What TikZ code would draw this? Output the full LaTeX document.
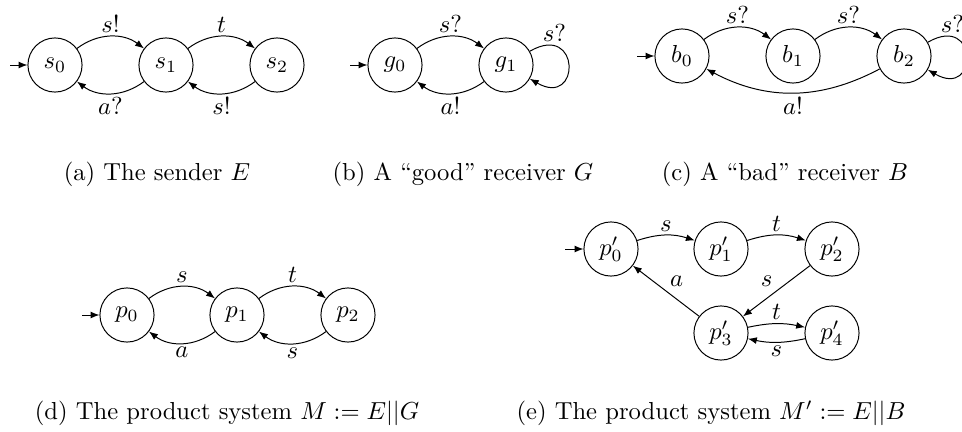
\documentclass[tikz,border=0pt]{standalone}
\usetikzlibrary{arrows.meta}

\begin{document}
\begin{tikzpicture}[x=0.4065pt, y=-0.4065pt,
    >={Latex[length=3.6pt,width=2.8pt]},
    loc/.style={draw, circle, minimum size=22pt, inner sep=0pt},
    trans/.style={->, auto},
    lbl/.style={inner sep=1.5pt},
    selfloop/.style={out=30, in=-30, distance=24pt},
    caption/.style={anchor=base}]

    \useasboundingbox (0,0) rectangle (962,432);

    % ==========================================
    % (a) Sender
    % ==========================================
    \node[loc] (s0) at (55,65)  {$s_0$};
    \node[loc] (s1) at (166,65) {$s_1$};
    \node[loc] (s2) at (277,65) {$s_2$};
    \coordinate (s0in) at (10,65);

    \draw[->] (s0in) -- (s0);
    \draw[trans] (s0) to[bend left=37] node[lbl] {$s!$} (s1);
    \draw[trans] (s1) to[bend left=37] node[lbl] {$a?$} (s0);
    \draw[trans] (s1) to[bend left=37] node[lbl] {$t$}  (s2);
    \draw[trans] (s2) to[bend left=37] node[lbl] {$s!$} (s1);

    \node[caption] (capa) at (157,180) {(a) The sender $E$};

    % ==========================================
    % (b) Good receiver
    % ==========================================
    \node[loc] (g0) at (395,65) {$g_0$};
    \node[loc] (g1) at (506,65) {$g_1$};
    \coordinate (g0in) at (350,65);

    \draw[->] (g0in) -- (g0);
    \draw[trans] (g0) to[bend left=37] node[lbl] {$s?$} (g1);
    \draw[trans] (g1) to[bend left=37] node[lbl] {$a!$} (g0);
    \draw[trans] (g1) to[selfloop] node[lbl, pos=0.2, above] {$s?$} (g1);

    \node[caption] (capb) at (463,180) {(b) A ``good'' receiver $G$};

    % ==========================================
    % (c) Bad receiver
    % ==========================================
    \node[loc] (b0) at (682,56) {$b_0$};
    \node[loc] (b1) at (793,56) {$b_1$};
    \node[loc] (b2) at (904,56) {$b_2$};
    \coordinate (b0in) at (637,56);

    \draw[->] (b0in) -- (b0);
    \draw[trans] (b0) to[bend left=37] node[lbl] {$s?$} (b1);
    \draw[trans] (b1) to[bend left=37] node[lbl] {$s?$} (b2);
    \draw[trans] (b2) to[bend left=28] node[lbl] {$a!$} (b0);
    \draw[trans] (b2) to[selfloop] node[lbl, pos=0.2, above] {$s?$} (b2);

    \node[caption] (capc) at (785,180) {(c) A ``bad'' receiver $B$};

    % ==========================================
    % (d) Product M
    % ==========================================
    \node[loc] (p0) at (127,315) {$p_0$};
    \node[loc] (p1) at (237,315) {$p_1$};
    \node[loc] (p2) at (348,315) {$p_2$};
    \coordinate (p0in) at (82,315);

    \draw[->] (p0in) -- (p0);
    \draw[trans] (p0) to[bend left=37] node[lbl] {$s$} (p1);
    \draw[trans] (p1) to[bend left=37] node[lbl] {$a$} (p0);
    \draw[trans] (p1) to[bend left=37] node[lbl] {$t$} (p2);
    \draw[trans] (p2) to[bend left=37] node[lbl] {$s$} (p1);

    \node[caption] (capd) at (227,419) {(d) The product system $M := E||G$};

    % ==========================================
    % (e) Product M'
    % ==========================================
    \node[loc] (q0) at (611,249) {$p'_0$};
    \node[loc] (q1) at (721,249) {$p'_1$};
    \node[loc] (q2) at (832,249) {$p'_2$};
    \node[loc] (q3) at (721,333) {$p'_3$};
    \node[loc] (q4) at (832,333) {$p'_4$};
    \coordinate (q0in) at (565,249);

    \draw[->] (q0in) -- (q0);
    \draw[trans] (q0) to[bend left=18] node[lbl] {$s$} (q1);
    \draw[trans] (q1) to[bend left=18] node[lbl] {$t$} (q2);
    \draw[trans] (q2) -- node[lbl, swap] {$s$} (q3);
    \draw[trans] (q3) -- node[lbl, swap] {$a$} (q0);
    \draw[trans] (q3) to[bend left=12] node[lbl] {$t$} (q4);
    \draw[trans] (q4) to[bend left=12] node[lbl] {$s$} (q3);

    \node[caption] (cape) at (711,419) {(e) The product system $M' := E||B$};

\end{tikzpicture}
\end{document}
